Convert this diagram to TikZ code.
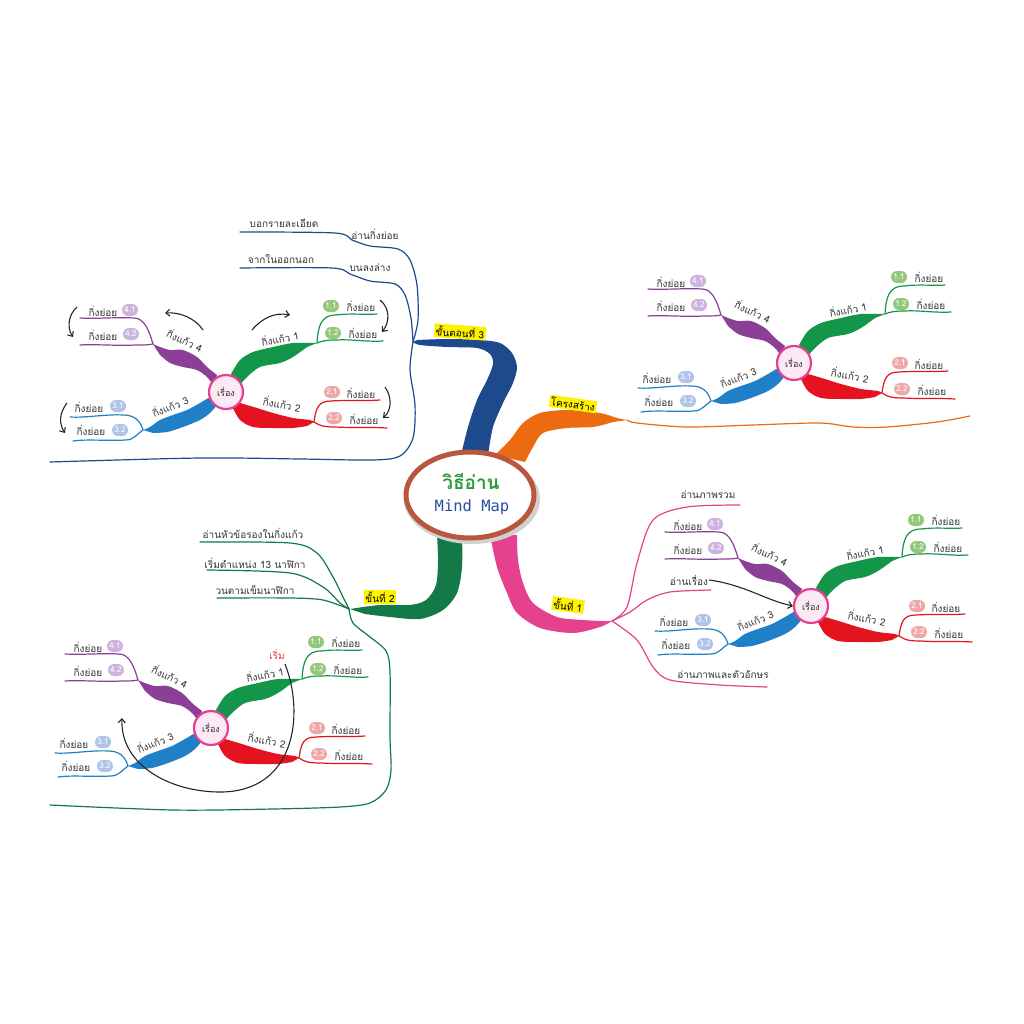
\documentclass[tikz,border=0pt]{standalone}
\usepackage{fontspec}
\setmainfont[Script=Thai]{Loma}
\newfontfamily\monof{DejaVu Sans Mono}
\usetikzlibrary{shapes.misc,shapes.geometric,arrows.meta}
\definecolor{cG}{HTML}{14964A}
\definecolor{cR}{HTML}{E3141F}
\definecolor{cB}{HTML}{1F80C8}
\definecolor{cP}{HTML}{8B3F96}
\definecolor{mBlue}{HTML}{1C4A8C}
\definecolor{mOr}{HTML}{EC6B10}
\definecolor{mPk}{HTML}{E6418E}
\definecolor{mGr}{HTML}{137A47}
\definecolor{elc}{HTML}{B9573E}
\definecolor{txtc}{HTML}{333333}
\definecolor{cpk}{HTML}{E6408E}
\definecolor{cpkf}{HTML}{FBEAF3}
\definecolor{bA}{HTML}{93C77A}
\definecolor{bB}{HTML}{EFA8A8}
\definecolor{bC}{HTML}{AFC4E8}
\definecolor{bD}{HTML}{CDB3DE}
\definecolor{hlc}{HTML}{FFF200}
\definecolor{tG}{HTML}{2A9A3A}
\definecolor{tBl}{HTML}{2A4EA0}
\definecolor{startred}{HTML}{E8303A}
\tikzset{
  tx/.style={font=\fontsize{10}{12}\selectfont, text=txtc, inner sep=1pt},
  bd/.style={rounded rectangle, minimum width=18pt, minimum height=12pt, inner sep=1pt, text=white, font=\fontsize{8}{9}\selectfont},
  ln/.style={line width=1.2pt, line cap=round},
  arr/.style={line width=1.1pt, black!85, -{Straight Barb[length=4pt,width=7pt]}},
  hl/.style={fill=hlc, inner sep=1.5pt, font=\fontsize{10}{12}\selectfont, text=black},
  ctr/.style={circle, draw=cpk, line width=2.2pt, fill=cpkf, minimum size=34pt, inner sep=0pt, font=\fontsize{9}{10}\selectfont, text=txtc},
  mm/.pic={
    \fill[cG] plot[smooth] coordinates {(5,-18) (14,-32) (27,-40) (47,-45) (67,-49) (91,-49)} -- plot[smooth] coordinates {(81,-45) (67,-35) (54,-29) (34,-25) (21,-15) (14,-7)} -- cycle;
    \fill[cR] plot[smooth] coordinates {(14,11) (31,16) (47,21) (67,26) (84,28) (88,30)} -- plot[smooth] coordinates {(81,34) (67,36) (47,36) (27,35) (14,28) (7,16)} -- cycle;
    \fill[cB] plot[smooth] coordinates {(-16,5) (-26,11) (-39,18) (-53,23) (-66,28) (-76,35) (-83,38)} -- plot[smooth] coordinates {(-73,41) (-59,40) (-43,35) (-26,28) (-16,21) (-9,13)} -- cycle;
    \fill[cP] plot[smooth] coordinates {(-9,-17) (-19,-25) (-29,-35) (-43,-42) (-56,-42) (-66,-45) (-73,-48)} -- plot[smooth] coordinates {(-66,-37) (-56,-29) (-43,-25) (-29,-22) (-19,-15) (-13,-7)} -- cycle;
    \coordinate (-tg) at (91,-49);
    \coordinate (-tr) at (88,30);
    \coordinate (-tb) at (-83,38);
    \coordinate (-tp) at (-73,-48);
    \coordinate (-e11) at (151,-78);
    \coordinate (-e12) at (157,-51);
    \coordinate (-e21) at (154,8);
    \coordinate (-e22) at (161,36);
    \coordinate (-e31) at (-156,25);
    \coordinate (-e32) at (-153,49);
    \coordinate (-e41) at (-146,-74);
    \coordinate (-e42) at (-146,-47);
    \draw[ln,cG] (-tg) .. controls (92,-66) and (95,-77) .. (110,-77) .. controls (125,-79) and (140,-77) .. (-e11);
    \draw[ln,cG] (-tg) .. controls (96,-51) and (100,-52) .. (110,-52) .. controls (125,-53) and (140,-50) .. (-e12);
    \draw[ln,cR] (-tr) .. controls (90,16) and (92,9) .. (105,9) .. controls (120,8) and (140,9) .. (-e21);
    \draw[ln,cR] (-tr) .. controls (94,34) and (98,35) .. (110,35) .. controls (125,36) and (145,35) .. (-e22);
    \draw[ln,cB] (-tb) .. controls (-86,28) and (-92,23) .. (-103,23) .. controls (-120,22) and (-140,26) .. (-e31);
    \draw[ln,cB] (-tb) .. controls (-88,41) and (-92,48) .. (-100,48) .. controls (-120,49) and (-140,47) .. (-e32);
    \draw[ln,cP] (-tp) .. controls (-77,-62) and (-82,-74) .. (-92,-74) .. controls (-110,-75) and (-130,-73) .. (-e41);
    \draw[ln,cP] (-tp) .. controls (-78,-47) and (-82,-47) .. (-90,-47) .. controls (-110,-46) and (-130,-48) .. (-e42);
    \node[tx,rotate=12] (-l1) at (54,-54) {กิ่งแก้ว 1};
    \node[tx,rotate=-10] (-l2) at (56,12) {กิ่งแก้ว 2};
    \node[tx,rotate=22] (-l3) at (-56,14) {กิ่งแก้ว 3};
    \node[tx,rotate=-25] (-l4) at (-41,-52) {กิ่งแก้ว 4};
    \node[bd,fill=bA] (-n11) at (105,-86) {1.1};
    \node[tx] (-s11) at (135,-86) {กิ่งย่อย};
    \node[bd,fill=bA] (-n12) at (107,-59) {1.2};
    \node[tx] (-s12) at (137,-59) {กิ่งย่อย};
    \node[bd,fill=bB] (-n21) at (106,0) {2.1};
    \node[tx] (-s21) at (135,1) {กิ่งย่อย};
    \node[bd,fill=bB] (-n22) at (108,26) {2.2};
    \node[tx] (-s22) at (138,27) {กิ่งย่อย};
    \node[bd,fill=bC] (-n31) at (-108,14) {3.1};
    \node[tx] (-s31) at (-137,15) {กิ่งย่อย};
    \node[bd,fill=bC] (-n32) at (-106,38) {3.2};
    \node[tx] (-s32) at (-135,38) {กิ่งย่อย};
    \node[bd,fill=bD] (-n41) at (-96,-82) {4.1};
    \node[tx] (-s41) at (-123,-81) {กิ่งย่อย};
    \node[bd,fill=bD] (-n42) at (-95,-58) {4.2};
    \node[tx] (-s42) at (-123,-57) {กิ่งย่อย};
    \node[ctr] (-c) at (0,0) {เรื่อง};
  }
}
\begin{document}
\begin{tikzpicture}[x=1pt,y=-1pt]
\useasboundingbox (0,0) rectangle (1024,1024);
\fill[white] (0,0) rectangle (1024,1024);

% main bands
\fill[mBlue] plot[smooth] coordinates {(461,455) (468,427) (477,400) (487,380) (493,364) (490,354) (477,348) (447,347) (420,345) (413,342)} -- plot[smooth] coordinates {(417,340) (447,339) (480,340) (500,343) (512,353) (517,367) (513,383) (503,403) (493,427) (488,455)} -- cycle;
\fill[mOr] plot[smooth] coordinates {(495,455) (510,440) (523,423) (540,413) (567,410) (600,413) (617,418) (627,420)} -- plot[smooth] coordinates {(613,422) (593,427) (567,428) (543,433) (533,447) (525,462)} -- cycle;
\fill[mPk] plot[smooth] coordinates {(490,535) (497,567) (507,593) (517,613) (540,628) (573,633) (600,627) (612,621)} -- plot[smooth] coordinates {(603,621) (583,620) (557,617) (533,603) (523,583) (518,560) (517,535)} -- cycle;
\fill[mGr] plot[smooth] coordinates {(437,535) (438,560) (436,585) (426,600) (410,605) (380,605) (350,609)} -- plot[smooth] coordinates {(365,614) (390,617) (420,619) (443,610) (457,593) (462,567) (462,535)} -- cycle;

% centre
\fill[black!18] (472,499) ellipse [x radius=68, y radius=45];
\node[ellipse, draw=elc, line width=5pt, fill=white, minimum width=128pt, minimum height=86pt] (C) at (470,495) {};
\node[text=tG, font=\fontsize{19}{20}\selectfont\bfseries] (C1) at (471,481) {วิธีอ่าน};
\node[text=tBl, font=\monof\fontsize{15.5}{16}\selectfont] (C2) at (472,507) {Mind Map};

% mini maps
\pic (tl) at (226,392) {mm};
\pic (tr) at (794,363) {mm};
\pic (pm) at (811,606) {mm};
\pic (gm) at (211,728) {mm};

% step 3 (blue)
\coordinate (J3) at (413,342);
\coordinate (e31) at (240,232);
\coordinate (e32) at (240,268);
\coordinate (e33) at (50,462);
\draw[ln,mBlue] plot[smooth] coordinates {(J3) (418,320) (417,285) (410,260) (398,249) (370,246) (352,240) (335,233) (e31)};
\draw[ln,mBlue] plot[smooth] coordinates {(J3) (411,318) (405,295) (395,284) (370,281) (350,274) (332,268) (e32)};
\draw[ln,mBlue] plot[smooth] coordinates {(J3) (410,370) (415,405) (413,438) (400,456) (373,460) (300,459) (200,458) (e33)};
\node[tx] (t31) at (375,234) {อ่านกิ่งย่อย};
\node[tx] (t32) at (284,223) {บอกรายละเอียด};
\node[tx] (t33) at (370,268) {บนลงล่าง};
\node[tx] (t34) at (281,259) {จากในออกนอก};
\node[hl, rotate=-4] (h3) at (460,332) {ขั้นตอนที่ 3};

% arrows of top-left map
\coordinate (a1s) at (252,330); \coordinate (a1e) at (290,315);
\coordinate (a2s) at (380,300); \coordinate (a2e) at (382,332);
\coordinate (a3s) at (385,387); \coordinate (a3e) at (383,418);
\coordinate (a4s) at (203,330); \coordinate (a4e) at (165,313);
\coordinate (a5s) at (77,307);  \coordinate (a5e) at (73,337);
\coordinate (a6s) at (67,403);  \coordinate (a6e) at (65,433);
\draw[arr] (a1s) .. controls (262,318) and (275,312) .. (a1e);
\draw[arr] (a2s) .. controls (390,308) and (390,322) .. (a2e);
\draw[arr] (a3s) .. controls (392,397) and (392,410) .. (a3e);
\draw[arr] (a4s) .. controls (195,318) and (180,312) .. (a4e);
\draw[arr] (a5s) .. controls (68,315) and (67,328) .. (a5e);
\draw[arr] (a6s) .. controls (59,413) and (59,424) .. (a6e);

% structure (orange)
\coordinate (JO) at (627,420);
\coordinate (eO) at (970,416);
\draw[ln,mOr] plot[smooth] coordinates {(JO) (637,423) (687,427) (753,425) (820,423) (853,427) (887,427) (937,422) (eO)};
\node[hl, rotate=-8] (ho) at (573,404) {โครงสร้าง};

% step 1 (pink)
\coordinate (J1) at (612,621);
\coordinate (e11) at (740,505);
\coordinate (e12) at (711,590);
\coordinate (e13) at (767,687);
\draw[ln,mPk] plot[smooth] coordinates {(J1) (627,607) (637,563) (653,520) (687,507) (e11)};
\draw[ln,mPk] plot[smooth] coordinates {(J1) (630,612) (647,600) (670,592) (e12)};
\draw[ln,mPk] plot[smooth] coordinates {(J1) (637,640) (653,667) (670,680) (720,685) (e13)};
\node[tx] (t11) at (708,495) {อ่านภาพรวม};
\node[tx] (t12) at (689,580) {อ่านเรื่อง};
\node[tx] (t13) at (723,675) {อ่านภาพและตัวอักษร};
\draw[arr] (t12.east) .. controls (745,585) and (765,600) .. (pm-c.west);
\node[hl, rotate=-8] (h1) at (568,605) {ขั้นที่ 1};

% step 2 (green)
\coordinate (J2) at (349,609);
\coordinate (e21) at (200,542);
\coordinate (e22) at (207,570);
\coordinate (e23) at (217,598);
\coordinate (e24) at (50,805);
\draw[ln,mGr] plot[smooth] coordinates {(J2) (343,597) (333,577) (317,553) (290,543) (e21)};
\draw[ln,mGr] plot[smooth] coordinates {(J2) (340,603) (323,587) (290,573) (e22)};
\draw[ln,mGr] plot[smooth] coordinates {(J2) (323,600) (290,598) (e23)};
\draw[ln,mGr] plot[smooth] coordinates {(J2) (353,623) (370,637) (386,651) (390,672) (390,737) (391,770) (386,790) (370,803) (340,807) (273,809) (173,810) (e24)};
\node[tx] (t21) at (253,533) {อ่านหัวข้อรองในกิ่งแก้ว};
\node[tx] (t22) at (255,563) {เริ่มตำแหน่ง 13 นาฬิกา};
\node[tx] (t23) at (255,590) {วนตามเข็มนาฬิกา};
\node[hl] (h2) at (380,597) {ขั้นที่ 2};
\node[text=startred, font=\fontsize{10}{12}\selectfont, inner sep=1pt] (st) at (277,654) {เริ่ม};
\coordinate (b0) at (285,664);
\coordinate (b1) at (122,718);
\draw[arr] (b0) .. controls (305,715) and (295,792) .. (220,792) .. controls (170,792) and (120,765) .. (b1);
\end{tikzpicture}
\end{document}
